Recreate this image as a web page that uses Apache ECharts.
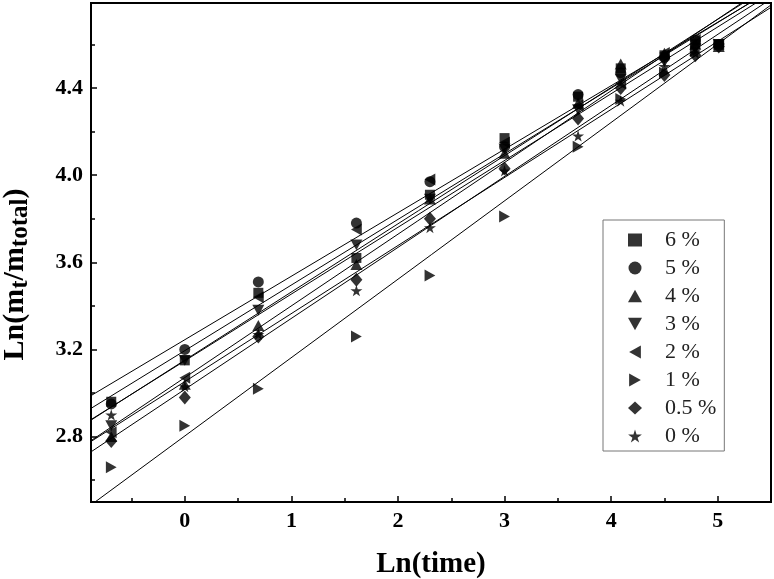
<!DOCTYPE html>
<html><head><meta charset="utf-8">
<script src="https://cdn.jsdelivr.net/npm/echarts@6/dist/echarts.min.js"></script>
<style>html,body{margin:0;padding:0;background:#fff}#c{width:774px;height:579px}</style>
</head><body><div id="c"></div>
<script>
// ---- data ----
const xValues = [-0.69, 0, 0.69, 1.61, 2.30, 3.00, 3.69, 4.09, 4.50, 4.79, 5.01];
const seriesNames = ['6 %', '5 %', '4 %', '3 %', '2 %', '1 %', '0.5 %', '0 %'];
const y6  = [2.96, 3.15, 3.46, 3.62, 3.91, 4.17, 4.36, 4.49, 4.55, 4.60, 4.60];
const y5  = [2.95, 3.20, 3.51, 3.78, 3.97, 4.13, 4.37, 4.47, 4.54, 4.62, 4.60];
const y4  = [2.80, 3.04, 3.31, 3.59, 3.89, 4.10, 4.33, 4.51, 4.56, 4.60, 4.59];
const y3  = [2.85, 3.15, 3.38, 3.68, 3.89, 4.12, 4.30, 4.44, 4.52, 4.58, 4.60];
const y2  = [2.82, 3.07, 3.44, 3.75, 3.98, 4.15, 4.32, 4.42, 4.56, 4.62, 4.60];
const y1  = [2.66, 2.85, 3.02, 3.26, 3.54, 3.81, 4.13, 4.35, 4.47, 4.57, 4.60];
const y05 = [2.78, 2.98, 3.26, 3.52, 3.80, 4.03, 4.26, 4.40, 4.46, 4.55, 4.59];
const y0  = [2.90, 3.03, 3.27, 3.47, 3.76, 4.02, 4.18, 4.34, 4.50, 4.56, 4.60];
const seriesValues = [y6, y5, y4, y3, y2, y1, y05, y0];
const xTickLabels = [0, 1, 2, 3, 4, 5];
const xMinorTicks = [-0.5, 0.5, 1.5, 2.5, 3.5, 4.5];
const yTickLabels = [2.8, 3.2, 3.6, 4.0, 4.4];
const yMinorTicks = [2.6, 3.0, 3.4, 3.8, 4.2, 4.6];
const X_MIN = -0.88, X_MAX = 5.5, Y_MIN = 2.5, Y_MAX = 4.79;

// ---- styling ----
const symbols = [
  'rect',
  'circle',
  'path://M5,0 L10,9 L0,9 Z',
  'path://M0,0 L10,0 L5,9 Z',
  'path://M0,5 L9,0 L9,10 Z',
  'path://M0,0 L9,5 L0,10 Z',
  'diamond',
  'path://M50,0 L61,35 L98,35 L68,57 L79,91 L50,70 L21,91 L32,57 L2,35 L39,35 Z'
];
const sizes = [10, 11, 12, 12, 12, 12, [12, 14], 12];
const FONT = '"Liberation Serif", "Times New Roman", serif';

function fit(xs, ys) {
  const n = xs.length;
  let sx = 0, sy = 0, sxx = 0, sxy = 0;
  for (let i = 0; i < n; i++) { sx += xs[i]; sy += ys[i]; sxx += xs[i]*xs[i]; sxy += xs[i]*ys[i]; }
  const b = (n*sxy - sx*sy) / (n*sxx - sx*sx);
  const a = (sy - b*sx) / n;
  return [a, b];
}

const series = [];
seriesValues.forEach((ys, i) => {
  const [a, b] = fit(xValues, ys);
  series.push({
    name: 'fit' + i, type: 'line', xAxisIndex: 0, yAxisIndex: 0,
    data: [[X_MIN, a + b*X_MIN], [X_MAX, a + b*X_MAX]],
    symbol: 'none', silent: true, clip: true, z: 2,
    lineStyle: { color: '#000', width: 1 }
  });
});
seriesValues.forEach((ys, i) => {
  series.push({
    name: seriesNames[i], type: 'scatter', xAxisIndex: 0, yAxisIndex: 0,
    data: xValues.map((x, j) => [x, ys[j]]),
    symbol: symbols[i], symbolSize: sizes[i], symbolKeepAspect: true, z: 3,
    itemStyle: { color: '#000' }
  });
});

const labelStyle = { fontFamily: FONT, fontWeight: 'bold', fontSize: 22, color: '#000' };

const option = {
  animation: false,
  backgroundColor: '#fff',
  grid: { left: 91, right: 3, top: 3, bottom: 77, show: true, borderColor: '#000', borderWidth: 2, backgroundColor: 'transparent', containLabel: false, outerBoundsMode: 'none' },
  legend: {
    data: seriesNames, orient: 'vertical', left: 603, top: 220,
    itemWidth: 14, itemHeight: 13, itemGap: 6,
    padding: [9, 8, 4, 25],
    borderColor: '#777', borderWidth: 1,
    textStyle: { fontFamily: FONT, fontSize: 22, color: '#222', padding: [0, 0, 0, 18] }
  },
  xAxis: [{
    type: 'value', min: X_MIN, max: X_MAX, position: 'bottom',
    name: 'Ln(time)', nameLocation: 'middle', nameGap: 48,
    nameTextStyle: { fontFamily: FONT, fontWeight: 'bold', fontSize: 29, color: '#000' },
    axisLine: { show: true, onZero: false, lineStyle: { color: '#000', width: 2 } },
    axisTick: { show: true, inside: true, length: 6, customValues: xTickLabels, lineStyle: { color: '#000', width: 1.5 } },
    axisLabel: Object.assign({ customValues: xTickLabels, margin: 8, formatter: v => String(v) }, labelStyle),
    splitLine: { show: false }
  }, {
    type: 'value', min: X_MIN, max: X_MAX, position: 'bottom', gridIndex: 0,
    axisLine: { show: false, onZero: false },
    axisTick: { show: true, inside: true, length: 4, customValues: xMinorTicks, lineStyle: { color: '#000', width: 1.5 } },
    axisLabel: { show: false }, splitLine: { show: false }
  }],
  yAxis: [{
    type: 'value', min: Y_MIN, max: Y_MAX, position: 'left',
    name: '{a|Ln(m}{s|t}{a|/m}{s|total}{a|)}', nameLocation: 'middle', nameGap: 58,
    nameTextStyle: {
      padding: [0, 44, 0, 0],
      rich: {
        a: { fontFamily: FONT, fontWeight: 'bold', fontSize: 30, color: '#000', lineHeight: 36, verticalAlign: 'middle' },
        s: { fontFamily: FONT, fontWeight: 'bold', fontSize: 25, color: '#000', lineHeight: 25, verticalAlign: 'bottom' }
      }
    },
    axisLine: { show: true, onZero: false, lineStyle: { color: '#000', width: 2 } },
    axisTick: { show: true, inside: true, length: 6, customValues: yTickLabels, lineStyle: { color: '#000', width: 1.5 } },
    axisLabel: Object.assign({ customValues: yTickLabels, margin: 8, formatter: v => v.toFixed(1) }, labelStyle),
    splitLine: { show: false }
  }, {
    type: 'value', min: Y_MIN, max: Y_MAX, position: 'left', gridIndex: 0,
    axisLine: { show: false, onZero: false },
    axisTick: { show: true, inside: true, length: 4, customValues: yMinorTicks, lineStyle: { color: '#000', width: 1.5 } },
    axisLabel: { show: false }, splitLine: { show: false }
  }],
  series: series
};

const chart = echarts.init(document.getElementById('c'), null, { renderer: 'canvas' });
chart.setOption(option);
</script>
</body></html>
